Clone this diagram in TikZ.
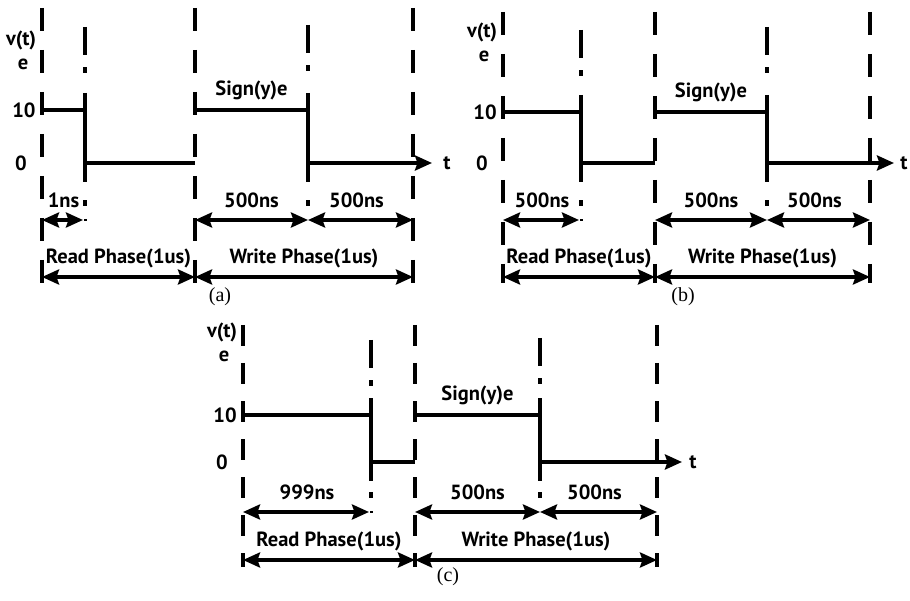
\documentclass[tikz,border=0pt]{standalone}
\usepackage{fontspec}
\setmainfont{PT Sans}
\newfontfamily\capfont{Liberation Serif}
\usetikzlibrary{arrows.meta}
\tikzset{
  dashline/.style={line width=4pt},
  wave/.style={line width=4pt},
  dimarrow/.style={line width=3.5pt,{Stealth[length=17pt,width=15pt,inset=2.5pt]}-{Stealth[length=17pt,width=15pt,inset=2.5pt]}},
  tarrow/.style={line width=4pt,-{Stealth[length=17pt,width=15pt,inset=2.5pt]}},
  lbl/.style={font=\fontsize{20.5}{22}\selectfont\bfseries,inner sep=0pt},
  caplbl/.style={font=\capfont\fontsize{20}{22}\selectfont,inner sep=0pt},
}
\newcommand\midline[2]{% #1 = x, #2 = top of first dash
  \draw[wave] (#1,#2) -- (#1,#2+28);
  \fill (#1-2,#2+40) rectangle (#1+2,#2+46);
  \draw[wave] (#1,\yh-17) -- (#1,\yl+19);
  \fill (#1-2,\ya-20) rectangle (#1+2,\ya-14);
}
\newcommand\drawpanel[1]{%
  % dashed phase borders
  \coordinate (#1A0) at (\xa,\yt); \coordinate (#1A1) at (\xa,\yb);
  \coordinate (#1C0) at (\xc,\yt); \coordinate (#1C1) at (\xc,\yb);
  \coordinate (#1E0) at (\xe,\yt); \coordinate (#1E1) at (\xe,\yb);
  \draw[dashline,dash pattern=on \don pt off \doff pt] (#1A0) -- (#1A1);
  \draw[dashline,dash pattern=on \don pt off \doff pt] (#1C0) -- (#1C1);
  \draw[dashline,dash pattern=on \don pt off \doff pt] (#1E0) -- (#1E1);
  % mid dash-dot lines
  \midline{\xb}{\ym}
  \midline{\xd}{\yw}
  \fill (\xb-1.5,\ya-1) rectangle (\xb+1.5,\ya+1);
  % waveform
  \coordinate (#1h0) at (\xa,\yh); \coordinate (#1h1) at (\xb,\yh);
  \coordinate (#1l0) at (\xb,\yl); \coordinate (#1l1) at (\xc,\yl);
  \coordinate (#1h2) at (\xc,\yh); \coordinate (#1h3) at (\xd,\yh);
  \coordinate (#1l2) at (\xd,\yl); \coordinate (#1tip) at (\xend,\yl);
  \draw[wave] (#1h0) -- (#1h1);
  \draw[wave] (#1l0) -- (#1l1);
  \draw[wave] (#1h2) -- (#1h3);
  \draw[tarrow] (#1l2) -- (#1tip);
  \node[lbl] (#1t) at (\xt,\yl) {t};
  % axis labels
  \node[lbl] (#1vt) at (\xa-21,\yv) {v(t)};
  \node[lbl] (#1e) at (\xa-19,\yv+24) {e};
  \node[lbl] (#1ten) at (\xa-18,\yh) {10};
  \node[lbl] (#1zero) at (\xa-21,\yl) {0};
  \node[lbl] (#1sign) at ({(\xc+\xd)/2},\yh-20) {Sign(y)e};
  % dimension arrows
  \coordinate (#1da) at (\xa,\ya); \coordinate (#1db) at (\xb-2,\ya);
  \coordinate (#1dc) at (\xc,\ya); \coordinate (#1dd) at (\xd,\ya);
  \coordinate (#1de) at (\xe,\ya);
  \draw[dimarrow] (#1da) -- (#1db);
  \draw[dimarrow] (#1dc) -- (#1dd);
  \draw[dimarrow] (#1dd) -- (#1de);
  \node[lbl] (#1rd) at ({(\xa+\xb)/2},\ya-20) {\rdlabel};
  \node[lbl] (#1w1) at ({(\xc+\xd)/2},\ya-20) {500ns};
  \node[lbl] (#1w2) at ({(\xd+\xe)/2-4},\ya-20) {500ns};
  \coordinate (#1pa) at (\xa,\yp); \coordinate (#1pc) at (\xc,\yp);
  \coordinate (#1pe) at (\xe,\yp);
  \draw[dimarrow] (#1pa) -- (#1pc);
  \draw[dimarrow] (#1pc) -- (#1pe);
  \node[lbl] (#1rp) at ({(\xa+\xc)/2},\yp-19) {Read Phase(1us)};
  \node[lbl] (#1wp) at ({(\xc+\xe)/2},\yp-19) {Write Phase(1us)};
}
\begin{document}
\begin{tikzpicture}[x=1pt,y=-1pt]
\useasboundingbox (0,0) rectangle (910,601);
% ---------- panel (a)
\def\xa{42}\def\xb{85}\def\xc{195}\def\xd{308}\def\xe{413}\def\xend{432}\def\xt{447}
\def\yt{8}\def\yb{283}\def\yv{40}\def\yh{110}\def\yl{163}\def\ya{220}\def\yp{277}
\def\ym{27}\def\yw{25}\def\don{23}\def\doff{19}\def\rdlabel{1ns}
\drawpanel{a}
\node[caplbl] (capa) at (220,297) {(a)};
% ---------- panel (b)
\def\xa{503}\def\xb{581}\def\xc{655}\def\xd{767}\def\xe{870}\def\xend{894}\def\xt{904}
\def\yt{12}\def\yb{283}\def\yv{32}\def\yh{112}\def\yl{163}\def\ya{220}\def\yp{277}
\def\ym{30}\def\yw{27}\def\don{23}\def\doff{19}\def\rdlabel{500ns}
\drawpanel{b}
\node[caplbl] (capb) at (683,297) {(b)};
% ---------- panel (c)
\def\xa{243}\def\xb{371}\def\xc{415}\def\xd{540}\def\xe{657}\def\xend{682}\def\xt{693}
\def\yt{325}\def\yb{567}\def\yv{332}\def\yh{415}\def\yl{462}\def\ya{512}\def\yp{560}
\def\ym{340}\def\yw{338}\def\don{21}\def\doff{17}\def\rdlabel{999ns}
\drawpanel{c}
\node[caplbl] (capc) at (448,577) {(c)};
\end{tikzpicture}
\end{document}
